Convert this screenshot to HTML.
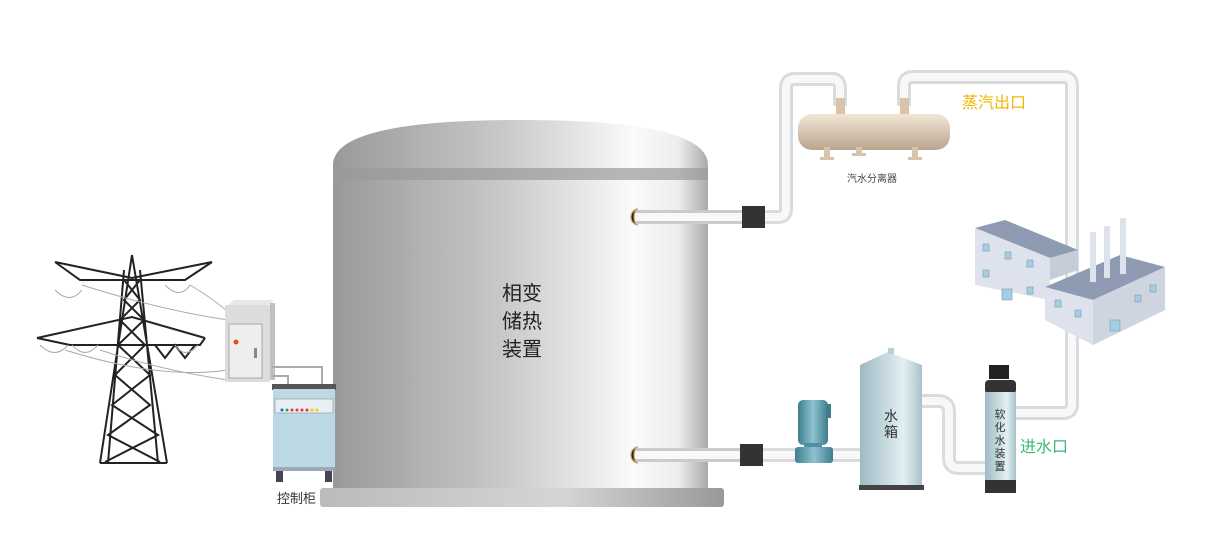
<!DOCTYPE html>
<html><head><meta charset="utf-8"><style>
html,body{margin:0;padding:0;background:#fff;}
svg{display:block;}
text{font-family:"Liberation Sans","Noto Sans CJK SC",sans-serif;}
</style></head><body>
<svg width="1208" height="535" viewBox="0 0 1208 535" xmlns="http://www.w3.org/2000/svg">
<defs>
<linearGradient id="tank" x1="0" x2="1" y1="0" y2="0">
<stop offset="0" stop-color="#999"/><stop offset="0.45" stop-color="#c8c8c8"/><stop offset="0.8" stop-color="#fafafa"/><stop offset="0.92" stop-color="#eee"/><stop offset="1" stop-color="#aaa"/></linearGradient>
<linearGradient id="base" x1="0" x2="1"><stop offset="0" stop-color="#bbb"/><stop offset="0.6" stop-color="#d5d5d5"/><stop offset="1" stop-color="#999"/></linearGradient>
<linearGradient id="sep" x1="0" x2="0" y1="0" y2="1"><stop offset="0" stop-color="#f2e6d6"/><stop offset="1" stop-color="#b9a58e"/></linearGradient>
<linearGradient id="wt" x1="0" x2="1"><stop offset="0" stop-color="#9fb9c2"/><stop offset="0.7" stop-color="#e2f0f4"/><stop offset="1" stop-color="#a9c2ca"/></linearGradient>
<linearGradient id="pump" x1="0" x2="1"><stop offset="0" stop-color="#3f7e8f"/><stop offset="0.5" stop-color="#8fc2cf"/><stop offset="1" stop-color="#3f7e8f"/></linearGradient>
</defs>

<!-- pipes -->
<g fill="none" stroke-linejoin="round" stroke-linecap="butt">
<path d="M640 217 H778 Q786 217 786 209 V88 Q786 79 795 79 H832 Q840 79 840 88 V106" stroke="#d8dcde" stroke-width="14"/>
<path d="M640 217 H778 Q786 217 786 209 V88 Q786 79 795 79 H832 Q840 79 840 88 V106" stroke="#f8f8f8" stroke-width="8"/>
<path d="M904 106 V86 Q904 77 913 77 H1064 Q1072 77 1072 86 V404 Q1072 413 1063 413 H1010" stroke="#d8dcde" stroke-width="14"/>
<path d="M904 106 V86 Q904 77 913 77 H1064 Q1072 77 1072 86 V404 Q1072 413 1063 413 H1010" stroke="#f8f8f8" stroke-width="8"/>
<path d="M640 455 H865" stroke="#d8dcde" stroke-width="14"/>
<path d="M640 455 H865" stroke="#f8f8f8" stroke-width="8"/>
<path d="M920 401 H938 Q949 401 949 412 V458 Q949 468 959 468 H988" stroke="#d8dcde" stroke-width="14"/>
<path d="M920 401 H938 Q949 401 949 412 V458 Q949 468 959 468 H988" stroke="#f8f8f8" stroke-width="8"/>
</g>

<!-- main tank -->
<path d="M333 165 Q333 120 520 120 Q708 120 708 165 V495 H333 Z" fill="url(#tank)"/>
<rect x="333" y="168" width="375" height="12" fill="#9a9a9a" opacity="0.7"/>
<rect x="320" y="488" width="404" height="19" rx="3" fill="url(#base)"/>
<text x="522" y="300" font-size="20" text-anchor="middle" fill="#222">相变</text>
<text x="522" y="328" font-size="20" text-anchor="middle" fill="#222">储热</text>
<text x="522" y="356" font-size="20" text-anchor="middle" fill="#222">装置</text>
<!-- pipe stubs on tank -->
<g fill="none">
<path d="M634 217 H745" stroke="#c8cccf" stroke-width="14"/>
<path d="M634 217 H745" stroke="#f8f8f8" stroke-width="8"/>
<path d="M634 455 H745" stroke="#c8cccf" stroke-width="14"/>
<path d="M634 455 H745" stroke="#f8f8f8" stroke-width="8"/>
</g>
<path d="M638 209 A7 8 0 0 0 638 225 A4 8 0 0 1 638 209Z" fill="#222" stroke="#c9a060" stroke-width="1.2"/>
<path d="M638 447 A7 8 0 0 0 638 463 A4 8 0 0 1 638 447Z" fill="#222" stroke="#c9a060" stroke-width="1.2"/>
<rect x="742" y="206" width="23" height="22" fill="#333"/>
<rect x="740" y="444" width="23" height="22" fill="#333"/>

<!-- separator -->
<rect x="836" y="98" width="9" height="16" fill="#d8c4aa"/>
<rect x="900" y="98" width="9" height="16" fill="#d8c4aa"/>
<rect x="798" y="114" width="152" height="36" rx="14" fill="url(#sep)"/>
<rect x="824" y="147" width="6" height="12" fill="#d8c4aa"/><rect x="820" y="157" width="14" height="3" fill="#d8c4aa"/>
<rect x="856" y="147" width="6" height="8" fill="#d8c4aa"/><rect x="852" y="153" width="14" height="3" fill="#d8c4aa"/>
<rect x="912" y="147" width="6" height="12" fill="#d8c4aa"/><rect x="908" y="157" width="14" height="3" fill="#d8c4aa"/>
<text x="872" y="182" font-size="10" text-anchor="middle" fill="#444">汽水分离器</text>
<text x="962" y="108" font-size="16" fill="#f5b400">蒸汽出口</text>

<!-- factory -->
<polygon points="975,228 1005,220 1078,250 1050,258" fill="#8e9bb3"/>
<polygon points="975,228 1050,258 1050,300 975,285" fill="#dde2ec"/>
<polygon points="1050,258 1078,250 1078,270 1050,280" fill="#c6ccd8"/>
<polygon points="1045,287 1120,255 1165,267 1093,300" fill="#8e9bb3"/>
<polygon points="1045,287 1093,300 1093,345 1045,320" fill="#dde2ec"/>
<polygon points="1093,300 1165,267 1165,310 1093,345" fill="#ced4e0"/>
<rect x="1090" y="232" width="6" height="50" fill="#dde2ec"/>
<rect x="1104" y="226" width="6" height="52" fill="#dde2ec"/>
<rect x="1120" y="218" width="6" height="56" fill="#dde2ec"/>
<g fill="#9fd0e6" stroke="#8a94a8" stroke-width="0.6">
<rect x="983" y="244" width="6" height="7"/><rect x="1005" y="252" width="6" height="7"/><rect x="1027" y="260" width="6" height="7"/>
<rect x="983" y="270" width="6" height="7"/><rect x="1002" y="289" width="10" height="11"/><rect x="1027" y="287" width="6" height="7"/>
<rect x="1055" y="300" width="6" height="7"/><rect x="1075" y="310" width="6" height="7"/><rect x="1110" y="320" width="10" height="11"/>
<rect x="1135" y="295" width="6" height="7"/><rect x="1150" y="285" width="6" height="7"/>
</g>

<!-- pump -->
<rect x="798" y="400" width="30" height="45" rx="5" fill="url(#pump)"/>
<rect x="826" y="404" width="5" height="14" fill="#3f7e8f"/>
<rect x="804" y="443" width="18" height="8" fill="#4f8fa0"/>
<rect x="795" y="447" width="38" height="16" rx="3" fill="url(#pump)"/>

<!-- water tank -->
<path d="M860 365 L888 352 L922 365 V488 H860 Z" fill="url(#wt)"/>
<rect x="888" y="348" width="6" height="6" fill="#b8cfd5"/>
<rect x="859" y="485" width="65" height="5" fill="#444"/>
<text x="891" y="421" font-size="14" text-anchor="middle" fill="#333">水</text>
<text x="891" y="437" font-size="14" text-anchor="middle" fill="#333">箱</text>

<!-- softener -->
<rect x="989" y="365" width="20" height="14" fill="#222"/>
<rect x="985" y="380" width="31" height="14" rx="4" fill="#333"/>
<rect x="985" y="392" width="31" height="90" fill="url(#wt)"/>
<rect x="985" y="480" width="31" height="13" fill="#333"/>
<g font-size="11" text-anchor="middle" fill="#333">
<text x="1000" y="418">软</text><text x="1000" y="431">化</text><text x="1000" y="444">水</text><text x="1000" y="457">装</text><text x="1000" y="470">置</text></g>
<text x="1020" y="452" font-size="16" fill="#3cb878">进水口</text>

<!-- power tower -->
<g stroke="#222" stroke-width="2" fill="none">
<path d="M132 255 L100 463 M132 255 L167 463 M124 270 L108 463 M140 270 L158 463"/>
<path d="M100 463 H167"/>
<path d="M55 262 L132 278 L212 262 M55 262 L80 280 H185 L212 262"/>
<path d="M37 338 L132 317 L205 338 M37 338 L70 345 H200 L205 338"/>
<path d="M124 280 L140 300 L120 320 L145 345 L115 375 L150 405 L108 435 L160 462 M140 280 L124 300 L144 320 L118 345 L150 375 L112 405 L158 435 L105 462"/>
<path d="M155 345 L165 358 L175 345 L185 358 L195 345"/>
</g>
<g stroke="#aaa" stroke-width="1" fill="none">
<path d="M55 290 Q70 305 82 290 M165 285 Q180 300 190 285 M40 345 Q55 360 68 345 M72 345 Q85 360 98 345 M175 345 Q185 360 198 345"/>
<path d="M82 285 Q160 310 228 320 M65 350 Q160 380 228 370 M190 285 Q215 300 228 312 M100 350 Q160 370 228 380"/>
</g>

<!-- wall box -->
<polygon points="228,305 268,305 274,300 234,300" fill="#e8e8e8"/>
<rect x="225" y="305" width="45" height="77" fill="#dcdcdc"/>
<rect x="270" y="303" width="5" height="77" fill="#c0c0c0"/>
<rect x="229" y="324" width="33" height="54" fill="#eee" stroke="#999" stroke-width="0.8"/>
<circle cx="236" cy="342" r="2.5" fill="#e05020"/>
<rect x="254" y="348" width="3" height="10" fill="#888"/>
<path d="M272 367 H322 V385 M272 376 H288 V385" stroke="#aaa" stroke-width="2" fill="none"/>

<!-- control cabinet -->
<rect x="272" y="384" width="64" height="6" fill="#555"/>
<rect x="273" y="389" width="62" height="82" fill="#bcd8e4"/>
<rect x="275" y="399" width="58" height="14" fill="#e8eef2" stroke="#888" stroke-width="0.5"/>
<g><circle cx="282" cy="410" r="1.5" fill="#26c"/><circle cx="287" cy="410" r="1.5" fill="#2a4"/><circle cx="292" cy="410" r="1.5" fill="#e34"/><circle cx="297" cy="410" r="1.5" fill="#e34"/><circle cx="302" cy="410" r="1.5" fill="#e34"/><circle cx="307" cy="410" r="1.5" fill="#e34"/><circle cx="312" cy="410" r="1.5" fill="#ec0"/><circle cx="317" cy="410" r="1.5" fill="#ec0"/></g>
<rect x="276" y="470" width="7" height="12" fill="#445"/><rect x="325" y="470" width="7" height="12" fill="#445"/>
<rect x="273" y="467" width="62" height="4" fill="#9ab"/>
<text x="277" y="503" font-size="13" fill="#333">控制柜</text>
</svg>
</body></html>
